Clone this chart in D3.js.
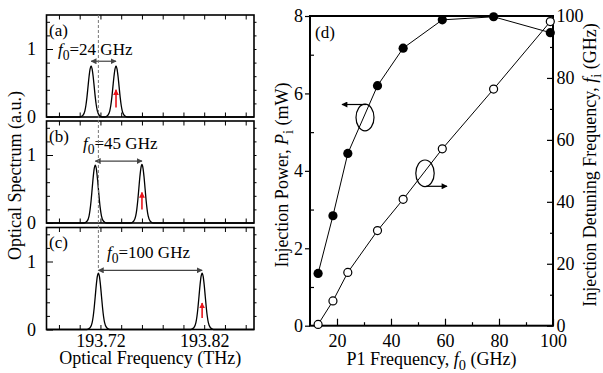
<!DOCTYPE html>
<html>
<head>
<meta charset="utf-8">
<script src="https://cdn.jsdelivr.net/npm/d3@7"></script>
<style>
body { margin: 0; background: #fff; }
text { font-family: "Liberation Serif", "Times New Roman", serif; fill: #000; }
</style>
</head>
<body>
<script>
"use strict";

const WIDTH = 603
const HEIGHT = 373

// ---- left column: optical spectra (a)-(c)
const panel_names = ["(a)", "(b)", "(c)"]
const f0_values = ["24", "45", "100"]
const peak_freqs = [[193.711, 193.735], [193.715, 193.760], [193.718, 193.818]] // THz
const peak_heights = [[0.75, 0.75], [0.85, 0.86], [0.83, 0.83]]
const spacing_arrow_level = [0.82, 0.91, 0.87]
const red_arrow_from = [0.14, 0.20, 0.17]
const red_arrow_to = [0.40, 0.45, 0.39]
// one peak's line shape: offset (THz) vs relative height
const shape_offsets = [-0.011, -0.008, -0.006, -0.005, -0.004, -0.003, -0.002, -0.001, 0, 0.001, 0.002, 0.003, 0.004, 0.005, 0.006, 0.008, 0.011]
const shape_values = [0, 0.03, 0.12, 0.23, 0.39, 0.59, 0.79, 0.94, 1, 0.94, 0.79, 0.59, 0.39, 0.23, 0.12, 0.03, 0]
const spec_tick_labels = [193.72, 193.82]

// ---- right: (d)
const p1_freq = [13, 18.5, 24, 35, 44.5, 59, 78, 99] // GHz
const inj_power = [1.35, 2.84, 4.45, 6.2, 7.17, 7.9, 7.98, 7.57] // mW
const inj_detuning = [0.4, 8.0, 17.2, 30.7, 40.8, 57.1, 76.4, 98.2] // GHz

const svg = d3.select("body").append("svg")
    .attr("width", WIDTH)
    .attr("height", HEIGHT)
    .attr("viewBox", `0 0 ${WIDTH} ${HEIGHT}`)

const defs = svg.append("defs")
function marker(id, color, w, h) {
    defs.append("marker")
        .attr("id", id)
        .attr("viewBox", "0 0 10 10")
        .attr("refX", 9).attr("refY", 5)
        .attr("markerUnits", "userSpaceOnUse")
        .attr("markerWidth", w).attr("markerHeight", h)
        .attr("orient", "auto-start-reverse")
        .append("path")
        .attr("d", "M0,0 L10,5 L0,10 z")
        .attr("fill", color)
}
marker("head-gray", "#444", 6, 6)
marker("head-red", "#e8141b", 6, 6)
marker("head-black", "#000", 8, 6)

// text with italic / subscript pieces
function rich(sel, parts, size) {
    parts.forEach(p => {
        const t = sel.append("tspan").text(p.t)
        if (p.i) t.attr("font-style", "italic")
        if (p.sub) t.attr("font-size", size * 0.8).attr("dy", size * 0.3)
        if (p.up) t.attr("dy", -size * 0.3)
    })
    return sel
}

// ================= left column =================
const L_LEFT = 46.5, L_RIGHT = 254
const panel_tops = [15, 121, 227.5]
const PANEL_H = 102
const FS = 18

const xs = d3.scaleLinear().domain([193.668, 193.868]).range([L_LEFT, L_RIGHT])
const minor_f = d3.range(193.68, 193.87, 0.02)

const line = d3.line().x(d => xs(d[0])).curve(d3.curveMonotoneX)

const f0_label_x = [58, 83, 107]
const f0_label_y = [55, 149, 258]

panel_tops.forEach((top, k) => {
    const bottom = top + PANEL_H
    const ys = d3.scaleLinear().domain([0, 1.5]).range([bottom, top])
    const g = svg.append("g")
    line.y(d => ys(d[1]))

    // spectrum
    const pts = [[193.668, 0]]
    peak_freqs[k].forEach((f, j) => {
        shape_offsets.forEach((o, n) => pts.push([f + o, peak_heights[k][j] * shape_values[n]]))
    })
    pts.push([193.868, 0])
    g.append("path").attr("d", line(pts))
        .attr("fill", "none").attr("stroke", "#000").attr("stroke-width", 1.3)

    // axes ticks
    g.append("g").attr("transform", `translate(0,${bottom})`)
        .call(d3.axisBottom(xs).tickValues(minor_f).tickSize(-4.5).tickFormat(""))
    g.append("g").attr("transform", `translate(0,${top})`)
        .call(d3.axisTop(xs).tickValues(minor_f).tickSize(-4.5).tickFormat(""))
    g.append("g").attr("transform", `translate(${L_LEFT},0)`)
        .call(d3.axisLeft(ys).tickValues([0.2, 0.4, 0.6, 0.8, 1.2, 1.4]).tickSize(-3.5).tickFormat(""))
    g.append("g").attr("transform", `translate(${L_LEFT},0)`)
        .call(d3.axisLeft(ys).tickValues([0, 1]).tickSize(-6.5).tickPadding(10.5).tickFormat(d3.format("d")))
        .call(a => a.selectAll("text").attr("font-size", FS).attr("font-family", null))
    g.append("g").attr("transform", `translate(${L_RIGHT},0)`)
        .call(d3.axisRight(ys).tickValues(d3.range(0.2, 1.5, 0.2)).tickSize(2.5).tickFormat(""))
    g.selectAll(".domain").remove()
    g.selectAll(".tick line").attr("stroke-width", 1)

    g.append("rect")
        .attr("x", L_LEFT).attr("y", top)
        .attr("width", L_RIGHT - L_LEFT).attr("height", PANEL_H)
        .attr("fill", "none").attr("stroke", "#000").attr("stroke-width", 1.6)

    // spacing arrow
    const [fa, fb] = peak_freqs[k]
    g.append("line")
        .attr("x1", xs(fa)).attr("x2", xs(fb))
        .attr("y1", ys(spacing_arrow_level[k])).attr("y2", ys(spacing_arrow_level[k]))
        .attr("stroke", "#444").attr("stroke-width", 1.2)
        .attr("marker-start", "url(#head-gray)").attr("marker-end", "url(#head-gray)")

    // red arrow under the injected line
    g.append("line")
        .attr("x1", xs(fb)).attr("x2", xs(fb))
        .attr("y1", ys(red_arrow_from[k])).attr("y2", ys(red_arrow_to[k]))
        .attr("stroke", "#e8141b").attr("stroke-width", 1.6)
        .attr("marker-end", "url(#head-red)")

    g.append("text").attr("x", L_LEFT + 2.5).attr("y", top + 20.5)
        .attr("font-size", 17).text(panel_names[k])

    rich(g.append("text").attr("x", f0_label_x[k]).attr("y", f0_label_y[k]).attr("font-size", 17),
        [{ t: "f", i: true }, { t: "0", sub: true }, { t: `=${f0_values[k]} GHz`, up: true }], 17)

    if (k == 2) {
        const ax = g.append("g").attr("transform", `translate(0,${bottom})`)
            .call(d3.axisBottom(xs).tickValues(spec_tick_labels).tickSize(0).tickPadding(5).tickFormat(d3.format(".2f")))
        ax.select(".domain").remove()
        ax.selectAll("text").attr("font-size", FS).attr("font-family", null)
    }
})

// dashed reference line through the three panels
{
    const ys_c = d3.scaleLinear().domain([0, 1.5]).range([panel_tops[2] + PANEL_H, panel_tops[2]])
    svg.append("line")
        .attr("x1", xs(peak_freqs[2][0])).attr("x2", xs(peak_freqs[2][0]))
        .attr("y1", panel_tops[0]).attr("y2", ys_c(spacing_arrow_level[2]))
        .attr("stroke", "#777").attr("stroke-width", 1).attr("stroke-dasharray", "3,2")
}

svg.append("text")
    .attr("x", (L_LEFT + L_RIGHT) / 2).attr("y", 364)
    .attr("text-anchor", "middle").attr("font-size", FS)
    .text("Optical Frequency (THz)")
svg.append("text")
    .attr("transform", "translate(21,175.5) rotate(-90)")
    .attr("text-anchor", "middle").attr("font-size", FS)
    .text("Optical Spectrum (a.u.)")

// ================= right panel (d) =================
const D_LEFT = 310, D_RIGHT = 553, D_TOP = 16, D_BOTTOM = 325.7
const xd = d3.scaleLinear().domain([10, 100]).range([D_LEFT, D_RIGHT])
const yp = d3.scaleLinear().domain([0, 8]).range([D_BOTTOM, D_TOP])
const yf = d3.scaleLinear().domain([0, 100]).range([D_BOTTOM, D_TOP])

const gd = svg.append("g")

function styled(a) {
    a.select(".domain").remove()
    a.selectAll("text").attr("font-size", FS).attr("font-family", null)
    a.selectAll(".tick line").attr("stroke-width", 1.2)
    return a
}

styled(gd.append("g").attr("transform", `translate(0,${D_BOTTOM})`)
    .call(d3.axisBottom(xd).tickValues([20, 40, 60, 80, 100]).tickSize(-7).tickPadding(8.5).tickFormat(d3.format("d"))))
styled(gd.append("g").attr("transform", `translate(0,${D_BOTTOM})`)
    .call(d3.axisBottom(xd).tickValues([30, 50, 70, 90]).tickSize(-3.5).tickFormat("")))
styled(gd.append("g").attr("transform", `translate(${D_LEFT},0)`)
    .call(d3.axisLeft(yp).tickValues([0, 2, 4, 6, 8]).tickSize(5).tickPadding(2).tickFormat(d3.format("d"))))
styled(gd.append("g").attr("transform", `translate(${D_LEFT},0)`)
    .call(d3.axisLeft(yp).tickValues([1, 3, 5, 7]).tickSize(-4).tickFormat("")))
styled(gd.append("g").attr("transform", `translate(${D_RIGHT},0)`)
    .call(d3.axisRight(yf).tickValues([0, 20, 40, 60, 80, 100]).tickSize(-6).tickPadding(3.5).tickFormat(d3.format("d"))))
styled(gd.append("g").attr("transform", `translate(${D_RIGHT},0)`)
    .call(d3.axisRight(yf).tickValues([10, 30, 50, 70, 90]).tickSize(-3).tickFormat("")))

gd.append("rect")
    .attr("x", D_LEFT).attr("y", D_TOP)
    .attr("width", D_RIGHT - D_LEFT).attr("height", D_BOTTOM - D_TOP)
    .attr("fill", "none").attr("stroke", "#000").attr("stroke-width", 2)

const power_pts = p1_freq.map((f, i) => [f, inj_power[i]])
const det_pts = p1_freq.map((f, i) => [f, inj_detuning[i]])

gd.append("path")
    .attr("d", d3.line().x(d => xd(d[0])).y(d => yp(d[1]))(power_pts))
    .attr("fill", "none").attr("stroke", "#000").attr("stroke-width", 1)
gd.append("path")
    .attr("d", d3.line().x(d => xd(d[0])).y(d => yf(d[1]))(det_pts))
    .attr("fill", "none").attr("stroke", "#000").attr("stroke-width", 1)

gd.selectAll(".pw").data(power_pts).join("circle")
    .attr("cx", d => xd(d[0])).attr("cy", d => yp(d[1])).attr("r", 4.6)
    .attr("fill", "#000")
gd.selectAll(".dt").data(det_pts).join("circle")
    .attr("cx", d => xd(d[0])).attr("cy", d => yf(d[1])).attr("r", 4)
    .attr("fill", "#fff").attr("stroke", "#000").attr("stroke-width", 1.2)

// curve markers: ellipse + arrow toward the axis
gd.append("ellipse").attr("cx", 365).attr("cy", 117.5).attr("rx", 9).attr("ry", 13.3)
    .attr("fill", "none").attr("stroke", "#000").attr("stroke-width", 1.2)
gd.append("line").attr("x1", 366).attr("x2", 342).attr("y1", 104.5).attr("y2", 104.5)
    .attr("stroke", "#000").attr("stroke-width", 1.2).attr("marker-end", "url(#head-black)")
gd.append("ellipse").attr("cx", 425).attr("cy", 173.3).attr("rx", 9.2).attr("ry", 13.3)
    .attr("fill", "none").attr("stroke", "#000").attr("stroke-width", 1.2)
gd.append("line").attr("x1", 426).attr("x2", 447).attr("y1", 186.3).attr("y2", 186.3)
    .attr("stroke", "#000").attr("stroke-width", 1.2).attr("marker-end", "url(#head-black)")

gd.append("text").attr("x", D_LEFT + 5).attr("y", D_TOP + 21.5).attr("font-size", 17).text("(d)")

rich(gd.append("text").attr("x", (D_LEFT + D_RIGHT) / 2).attr("y", 364.5)
    .attr("text-anchor", "middle").attr("font-size", FS),
    [{ t: "P1 Frequency, " }, { t: "f", i: true }, { t: "0", sub: true }, { t: " (GHz)", up: true }], FS)
rich(gd.append("text").attr("transform", "translate(288,175) rotate(-90)")
    .attr("text-anchor", "middle").attr("font-size", FS),
    [{ t: "Injection Power, " }, { t: "P", i: true }, { t: "i", sub: true }, { t: " (mW)", up: true }], FS)
rich(gd.append("text").attr("transform", "translate(596,165) rotate(-90)")
    .attr("text-anchor", "middle").attr("font-size", FS),
    [{ t: "Injection Detuning Frequency, " }, { t: "f", i: true }, { t: "i", sub: true }, { t: " (GHz)", up: true }], FS)
</script>
</body>
</html>
